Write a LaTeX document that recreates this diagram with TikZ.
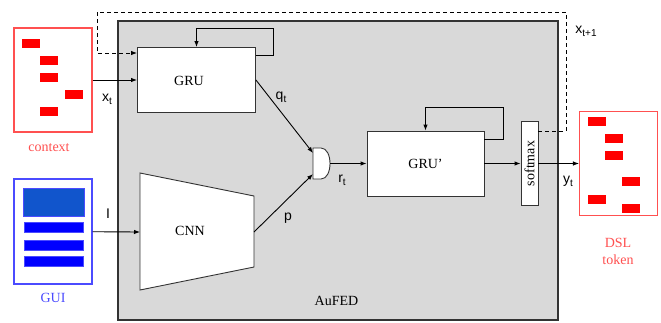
\documentclass[tikz,border=0pt]{standalone}
\usepackage{fontspec}
\setmainfont{Liberation Serif}
\newfontfamily\labfont{Liberation Sans}
\usetikzlibrary{arrows.meta, positioning}
\definecolor{ctxred}{HTML}{FF5050}
\definecolor{guiblue}{HTML}{4B4BFF}
\definecolor{barblue}{HTML}{0000FF}
\definecolor{panelblue}{HTML}{1155CC}
\definecolor{aufedgray}{HTML}{D9D9D9}
\newcommand{\varsub}[2]{{\labfont #1}\raisebox{-0.5ex}{\fontsize{10}{10}\labfont #2}}

\begin{document}
\begin{tikzpicture}[x=1pt, y=-1pt, line width=0.9pt, >={Latex[length=6pt,width=4.5pt]},
    every node/.style={font=\fontsize{14}{17}\selectfont},
    block/.style={draw=black!80, fill=white, inner sep=0pt},
    docbox/.style={draw, fill=white, line width=1.1pt, minimum width=78pt, minimum height=104pt},
    tok/.style={fill=red, minimum width=18pt, minimum height=9pt, inner sep=0pt},
    bar/.style={fill=barblue, draw=guiblue, line width=0.5pt, minimum width=59pt, minimum height=10pt, inner sep=0pt},
    lbl/.style={inner sep=0pt}]
    \useasboundingbox (0,0) rectangle (661,322);

    % AuFED panel
    \node[draw=black!80, fill=aufedgray, line width=1.2pt, minimum width=440pt, minimum height=299pt] (aufed) at (338,170.5) {};
    \node[lbl] (aufed-txt) at (336.5,301) {AuFED};

    % context and GUI inputs
    \node[docbox, draw=ctxred] (context) at (53,80) {};
    \foreach \x/\y in {31/43, 48.5/60, 48.5/77, 74/94, 48.5/111}
      \node[tok] at (\x,\y) {};
    \node[lbl, text=ctxred] (context-txt) at (49,148) {context};

    \node[docbox, draw=guiblue, minimum height=105pt] (gui) at (53,231.5) {};
    \node[fill=panelblue, draw=guiblue, line width=0.5pt, minimum width=61pt, minimum height=28pt, inner sep=0pt] (panel) at (53.5,202) {};
    \foreach \y in {227.5, 245, 261.5}
      \node[bar] at (53.5,\y) {};
    \node[lbl, text=guiblue] (gui-txt) at (53,298) {GUI};

    % GRU
    \node[block, minimum width=118pt, minimum height=65pt] (gru) at (196.5,80) {};
    \node[lbl] (gru-txt) at (189,81) {GRU};
    \draw[->] (gru.east |- 0,55) -| (273,28) -| (gru.north);

    % CNN
    \draw[block] (140,173) -- (254,196) -- (254,267) -- (140,290) -- cycle;
    \coordinate (cnn-in) at (140,232);
    \coordinate (cnn-out) at (254,232);
    \node[lbl] (cnn) at (190,231) {CNN};

    % merge gate
    \draw[block] (313,148) -- (321,148) .. controls (333,148) and (333,179) .. (321,179) -- (313,179) -- cycle;
    \coordinate (gate-a) at (313,153);
    \coordinate (gate-b) at (313,174);
    \coordinate (gate-out) at (330,163.5);

    % GRU'
    \node[block, minimum width=117pt, minimum height=65pt] (grup) at (425.5,163.5) {GRU'};
    \draw[->] (grup.east |- 0,139) -| (503,107) -| (grup.north);

    \node[block, rotate=90, minimum width=84pt, minimum height=17pt] (softmax) at (529.5,163.5) {softmax};

    % DSL token output
    \node[docbox, draw=ctxred] (dsl) at (618.5,163.5) {};
    \foreach \x/\y in {597/121.5, 614/138.5, 614/155.5, 631/181.5, 597/199.5, 631/208.5}
      \node[tok] at (\x,\y) {};
    \node[lbl, text=ctxred, align=center] (dsl-txt) at (618,251) {DSL\\token};

    % connections
    \draw[->] (context) -- (gru);
    \draw[->] (gui) -- (cnn-in);
    \draw[->] (gru.east) -- (gate-a);
    \draw[->] (cnn-out) -- (gate-b);
    \draw[->] (gate-out) -- (grup);
    \draw[->] (grup) -- (softmax);
    \draw[->] (softmax) -- (dsl);
    \draw[dash pattern=on 4pt off 3pt, ->] (softmax.south |- 0,131) -| (566,12) -| (97,53) -- (gru.west |- 0,53);

    % signal labels
    \node[lbl] (xt) at (107,99) {\varsub{x}{t}};
    \node[lbl] (in) at (108,214) {{\labfont I}};
    \node[lbl] (qt) at (281,97) {\varsub{q}{t}};
    \node[lbl] (pt) at (288,218) {{\labfont p}};
    \node[lbl] (rt) at (342,180) {\varsub{r}{t}};
    \node[lbl] (yt) at (568,181) {\varsub{y}{t}};
    \node[lbl] (xnext) at (586,31) {\varsub{x}{t+1}};
\end{tikzpicture}
\end{document}
